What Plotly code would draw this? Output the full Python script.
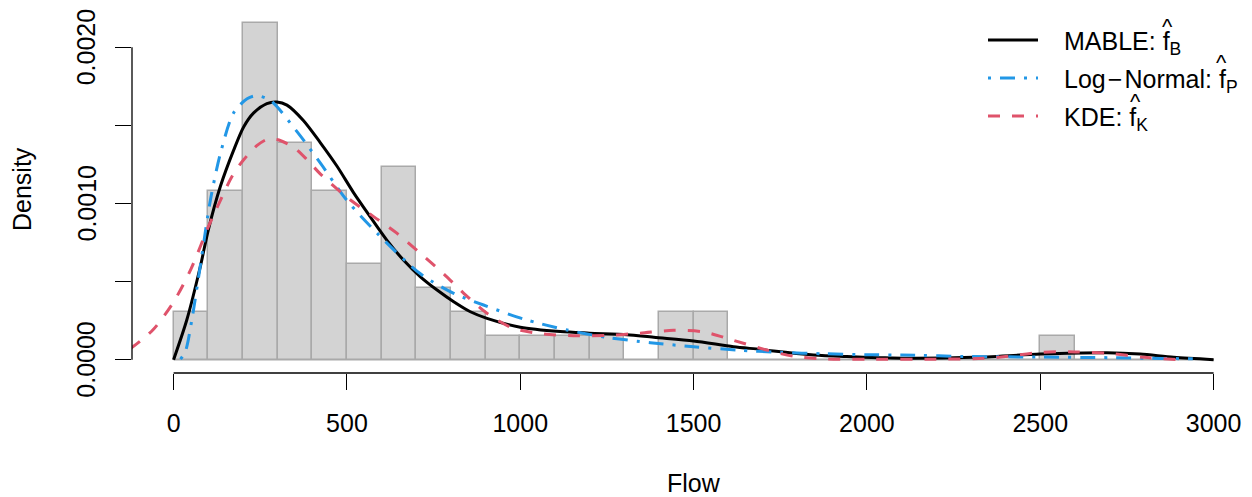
import plotly.graph_objects as go

# ---------------- data ----------------
bin_left = list(range(0, 3000, 100))
bin_density = [0.000308, 0.001077, 0.002154, 0.001385, 0.001077, 0.000615, 0.001231,
               0.000462, 0.000308, 0.000154, 0.000154, 0.000154, 0.000154, 0.0,
               0.000308, 0.000308, 0, 0, 0, 0, 0, 0, 0, 0, 0, 0.000154, 0, 0, 0, 0]

mable_x = [0, 38, 77, 100, 135, 173, 202, 231, 269, 298, 327, 375, 423, 471, 519, 567,
           615, 663, 712, 760, 808, 856, 904, 1000, 1115, 1200, 1308, 1385, 1500, 1615,
           1692, 1731, 1846, 1942, 2038, 2115, 2308, 2500, 2692, 2788, 2885, 3000]
mable_y = [0, 0.000254, 0.000595, 0.00083, 0.00111, 0.00134, 0.00149, 0.00158, 0.00164,
           0.00165, 0.00163, 0.00153, 0.00139, 0.00124, 0.00107, 0.000916, 0.000766,
           0.000638, 0.000531, 0.000446, 0.000371, 0.000307, 0.000265, 0.000208, 0.00018,
           0.00017, 0.00016, 0.000143, 0.00012, 0.000083, 0.000066, 0.000055, 0.00003,
           0.00002, 0.000013, 0.000009, 0.000015, 0.000036, 0.000045, 0.000036, 0.000015, 0]

lnorm_x = [20, 35, 53, 77, 106, 135, 173, 212, 240, 279, 356, 423, 500, 587, 712, 808,
           894, 1010, 1135, 1250, 1375, 1500, 1625, 1750, 1875, 2000, 2100, 2300, 2500,
           2700, 2850, 2940]
lnorm_y = [0.000003, 0.00006, 0.00026, 0.0006, 0.00102, 0.00132, 0.00158, 0.00167,
           0.00169, 0.00166, 0.00146, 0.00126, 0.00102, 0.00081, 0.00055, 0.000425,
           0.00035, 0.00026, 0.00019, 0.000143, 0.000109, 0.000083, 0.000062, 0.000047,
           0.000038, 0.000032, 0.00003, 0.00002, 0.000017, 0.000013, 0.000008, 0.000006]

kde_x = [-125, -60, 0, 50, 100, 135, 170, 202, 240, 269, 298, 346, 385, 423, 500, 577,
         644, 712, 779, 837, 904, 981, 1067, 1154, 1250, 1346, 1442, 1529, 1615, 1711,
         1788, 1885, 2000, 2200, 2350, 2400, 2500, 2600, 2700, 2800, 2890]
kde_y = [0.00007, 0.00019, 0.00037, 0.00058, 0.00085, 0.00102, 0.00118, 0.00128,
         0.00137, 0.00141, 0.00141, 0.00136, 0.00128, 0.00119, 0.00104, 0.000916,
         0.00081, 0.00068, 0.00055, 0.000425, 0.000297, 0.0002, 0.000165, 0.000154,
         0.000155, 0.00017, 0.000188, 0.000178, 0.000124, 0.000062, 0.000022, 0.000004,
         0.000003, 0.000003, 0.00001, 0.00002, 0.000047, 0.00005, 0.00004, 0.000015,
         0.000002]

x_ticks = [0, 500, 1000, 1500, 2000, 2500, 3000]
y_ticks = [0, 0.0005, 0.001, 0.0015, 0.002]
y_label_vals = [0, 0.001, 0.002]
y_label_text = ["0.0000", "0.0010", "0.0020"]

legend_labels = ["MABLE: f<sub>B</sub>",
                 "Log\u200a\u2212\u200aNormal: f<sub>P</sub>",
                 "KDE: f<sub>K</sub>"]

# ---------------- style ----------------
FONT = "Liberation Sans, Arial, Helvetica, sans-serif"
BLACK = "#000000"
BLUE = "#2297E6"
RED = "#DF536B"
W, H = 1252, 497
ML, MR, MT, MB = 132, 4, 6, 124
plot_w = W - ML - MR
plot_h = H - MT - MB
px_per_x = 1040 / 3000
px_per_y = 156200
x0 = -120
x1 = x0 + plot_w / px_per_x
y0 = -(373 - 359.7) / px_per_y
y1 = y0 + plot_h / px_per_y

def px2paper_x(p):
    return (p - ML) / plot_w

def px2paper_y(q):
    return (H - MB - q) / plot_h

fig = go.Figure()

centers = [b + 50 for b in bin_left]
fig.add_trace(go.Bar(x=centers, y=bin_density, width=100,
                     marker=dict(color="#D3D3D3", line=dict(color="#A9A9A9", width=1.5)),
                     showlegend=False, hoverinfo="skip"))
# baseline of empty bins
fig.add_trace(go.Scatter(x=[bin_left[0], bin_left[-1] + 100], y=[0, 0], mode="lines",
                         line=dict(color="#A9A9A9", width=1.5), showlegend=False,
                         hoverinfo="skip"))

fig.add_trace(go.Scatter(x=mable_x, y=mable_y, mode="lines",
                         line=dict(color=BLACK, width=3, shape="spline", smoothing=0.8),
                         showlegend=False))
fig.add_trace(go.Scatter(x=lnorm_x, y=lnorm_y, mode="lines",
                         line=dict(color=BLUE, width=3, shape="spline", smoothing=0.8,
                                   dash="3px,9px,15px,9px"),
                         showlegend=False))
fig.add_trace(go.Scatter(x=kde_x, y=kde_y, mode="lines",
                         line=dict(color=RED, width=3, shape="spline", smoothing=0.8,
                                   dash="12px,12px"),
                         showlegend=False))

shapes = [
    dict(type="line", xref="x", yref="paper", x0=x_ticks[0], x1=x_ticks[-1], y0=0, y1=0,
         line=dict(color="black", width=1.3)),
    dict(type="line", xref="paper", yref="y", x0=0, x1=0, y0=y_ticks[0], y1=y_ticks[-1],
         line=dict(color="black", width=1.3)),
]
annotations = []
leg_colors = [BLACK, BLUE, RED]
leg_dash = ["solid", "3px,9px,15px,9px", "12px,12px"]
leg_y_px = [40, 78, 116]
hat_x_px = [1167, 1221, 1135]
hat_y_px = [26, 63, 101]
for lab, col, dsh, yp, hx, hy in zip(legend_labels, leg_colors, leg_dash, leg_y_px,
                                     hat_x_px, hat_y_px):
    shapes.append(dict(type="line", xref="paper", yref="paper",
                       x0=px2paper_x(988), x1=px2paper_x(1038),
                       y0=px2paper_y(yp), y1=px2paper_y(yp),
                       line=dict(color=col, width=3, dash=dsh)))
    annotations.append(dict(xref="paper", yref="paper", x=px2paper_x(1062),
                            y=px2paper_y(yp + 3), xanchor="left", yanchor="middle",
                            text=lab, showarrow=False,
                            font=dict(family=FONT, size=25, color="black")))
    annotations.append(dict(xref="paper", yref="paper", x=px2paper_x(hx),
                            y=px2paper_y(hy), xanchor="center", yanchor="middle",
                            text="^", showarrow=False,
                            font=dict(family=FONT, size=22, color="black")))

# y tick labels (R style, rotated)
for v, t in zip(y_label_vals, y_label_text):
    annotations.append(dict(xref="paper", yref="y", x=px2paper_x(86), y=v,
                            text=t, showarrow=False, textangle=-90,
                            xanchor="center", yanchor="middle",
                            font=dict(family=FONT, size=25, color="black")))

annotations.append(dict(xref="paper", yref="paper", x=px2paper_x(694), y=px2paper_y(483),
                        text="Flow", showarrow=False, xanchor="center", yanchor="middle",
                        font=dict(family=FONT, size=25, color="black")))
annotations.append(dict(xref="paper", yref="paper", x=px2paper_x(22), y=px2paper_y(189),
                        text="Density", showarrow=False, textangle=-90,
                        xanchor="center", yanchor="middle",
                        font=dict(family=FONT, size=25, color="black")))

fig.update_layout(
    width=W, height=H,
    margin=dict(l=ML, r=MR, t=MT, b=MB),
    paper_bgcolor="white", plot_bgcolor="white",
    bargap=0, showlegend=False,
    shapes=shapes, annotations=annotations,
    font=dict(family=FONT, size=25, color="black"),
)
fig.update_xaxes(range=[x0, x1], showgrid=False, zeroline=False, showline=False,
                 tickmode="array", tickvals=x_ticks, ticks="outside", ticklen=16,
                 tickwidth=1.3, tickcolor="black", ticklabelstandoff=12,
                 tickfont=dict(family=FONT, size=25, color="black"))
fig.update_yaxes(range=[y0, y1], showgrid=False, zeroline=False, showline=False,
                 tickmode="array", tickvals=y_ticks, showticklabels=False,
                 ticks="outside", ticklen=16, tickwidth=1.3, tickcolor="black")

fig.write_html("out.html", config={"displayModeBar": False},
               post_script="document.body.style.margin='0';document.body.style.padding='0';")
